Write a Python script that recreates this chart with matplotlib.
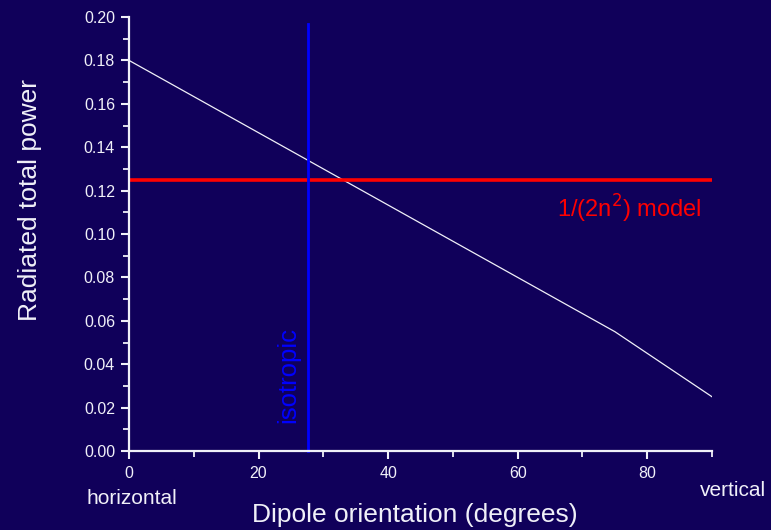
import matplotlib
matplotlib.use("Agg")
import matplotlib.pyplot as plt
from matplotlib.ticker import MultipleLocator

plt.rcParams['font.family'] = ['Liberation Sans', 'DejaVu Sans']

# radiated power vs dipole orientation
angle = [0, 15, 30, 45, 60, 75, 90]
power = [0.180, 0.155, 0.130, 0.105, 0.080, 0.055, 0.025]

model_angle = [0, 90]
model_power = [0.125, 0.125]

iso_angle = 27.7
iso_top = 0.197

bg = '#10005A'
fg = '#F0F0F8'

fig = plt.figure(figsize=(7.71, 5.30), dpi=100, facecolor=bg)
ax = fig.add_axes([129/771, 1 - 451/530, (712 - 129)/771, (451 - 17)/530])
ax.set_facecolor(bg)

ax.plot(angle, power, color=fg, lw=0.9)
ax.plot(model_angle, model_power, color='#FF0000', lw=2.6)
ax.plot([iso_angle, iso_angle], [0, iso_top], color='#0000FF', lw=2, clip_on=False)

ax.set_xlim(0, 90)
ax.set_ylim(0, 0.20)
ax.xaxis.set_major_locator(MultipleLocator(20))
ax.xaxis.set_minor_locator(MultipleLocator(10))
ax.yaxis.set_major_locator(MultipleLocator(0.02))
ax.yaxis.set_minor_locator(MultipleLocator(0.01))
ax.yaxis.set_major_formatter(plt.FormatStrFormatter('%.2f'))

for s in ['top', 'right']:
    ax.spines[s].set_visible(False)
for s in ['left', 'bottom']:
    ax.spines[s].set_color(fg)
    ax.spines[s].set_linewidth(1.6)

ax.tick_params(which='major', direction='out', length=6, width=1.5, colors=fg,
               labelsize=11.5, pad=4)
ax.tick_params(which='minor', direction='out', length=4, width=1.3, colors=fg)
ax.tick_params(axis='x', pad=5)

ax.text(77.3, 0.1115, r'1/(2n$^2$) model', color='#FF0000', fontsize=17,
        ha='center', va='center')
ax.text(24.6, 0.035, 'isotropic', color='#0000FF', fontsize=18.5, rotation=90,
        ha='center', va='center')

fig.text(30/771, 1 - 200/530, 'Radiated total power', color=fg, fontsize=19,
         rotation=90, ha='center', va='center')
fig.text(415/771, 1 - 515/530, 'Dipole orientation (degrees)', color=fg,
         fontsize=19, ha='center', va='center')
fig.text(132/771, 1 - 499/530, 'horizontal', color=fg, fontsize=15,
         ha='center', va='center')
fig.text(733/771, 1 - 491/530, 'vertical', color=fg, fontsize=15,
         ha='center', va='center')

fig.savefig('out.png', dpi=100, facecolor=bg)
